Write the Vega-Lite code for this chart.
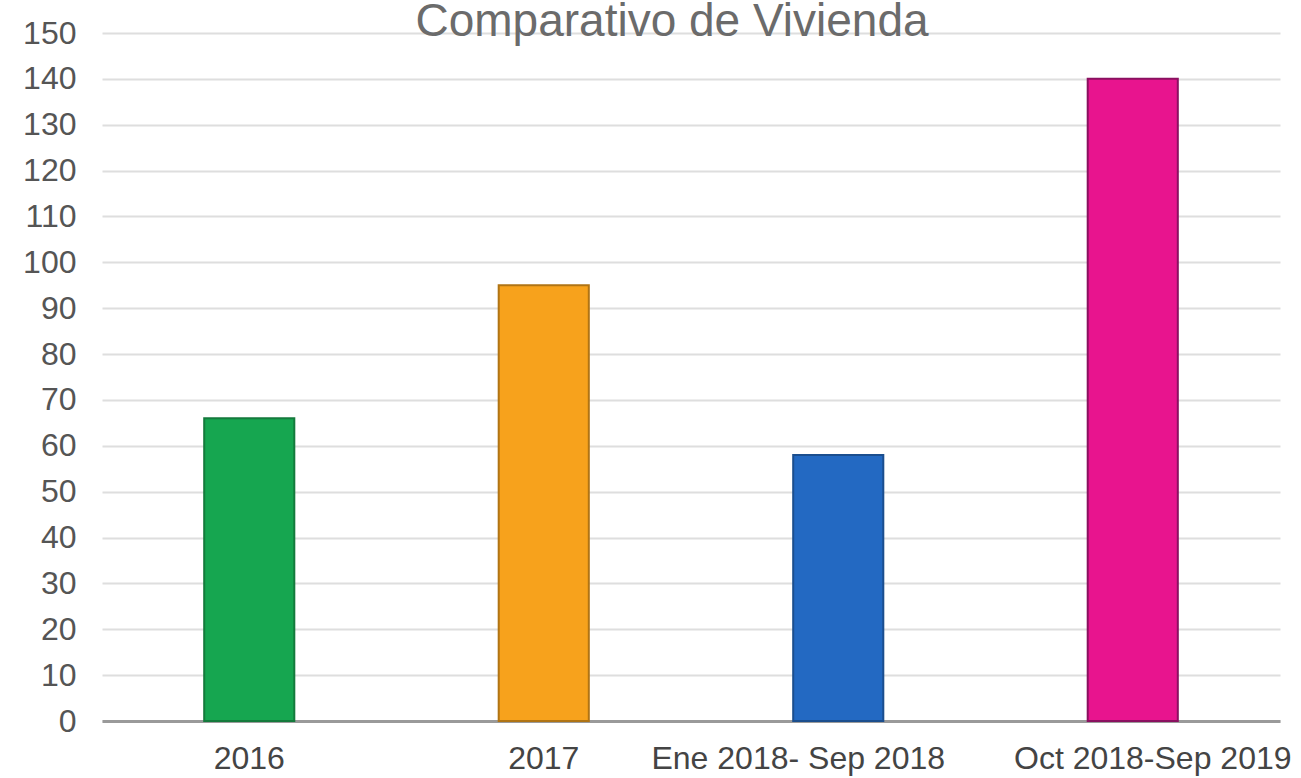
{
  "$schema": "https://vega.github.io/schema/vega-lite/v6.json",
  "autosize": "none",
  "width": 1178,
  "height": 688,
  "padding": {"left": 102, "top": 33, "right": 21, "bottom": 57},
  "background": "white",
  "title": {
    "text": "Comparativo de Vivienda",
    "font": "Liberation Sans",
    "fontSize": 46,
    "fontWeight": "normal",
    "color": "#6b6b6b",
    "anchor": "middle",
    "baseline": "alphabetic",
    "offset": 0,
    "dx": -19,
    "dy": 65
  },
  "data": {
    "values": [
      {"periodo": "2016", "valor": 66},
      {"periodo": "2017", "valor": 95},
      {"periodo": "Ene 2018- Sep 2018", "valor": 58},
      {"periodo": "Oct 2018-Sep 2019", "valor": 140}
    ]
  },
  "mark": {"type": "bar", "strokeWidth": 2},
  "encoding": {
    "x": {
      "field": "periodo",
      "type": "nominal",
      "sort": null,
      "scale": {"paddingInner": 0.694, "paddingOuter": 0.347},
      "axis": {
        "title": null,
        "labelAngle": 0,
        "labelFont": "Liberation Sans",
        "labelFontSize": 32,
        "labelColor": "#444444",
        "labelPadding": 22,
        "labelLimit": 0,
        "labelOverlap": false,
        "labelOffset": {
          "condition": [
            {"test": "datum.value === 'Ene 2018- Sep 2018'", "value": -40},
            {"test": "datum.value === 'Oct 2018-Sep 2019'", "value": 20}
          ],
          "value": 0
        },
        "ticks": false,
        "domainColor": "#9a9a9a",
        "domainWidth": 3,
        "grid": false
      }
    },
    "y": {
      "field": "valor",
      "type": "quantitative",
      "scale": {"domain": [0, 150], "nice": false},
      "axis": {
        "title": null,
        "values": [0, 10, 20, 30, 40, 50, 60, 70, 80, 90, 100, 110, 120, 130, 140, 150],
        "labelFont": "Liberation Sans",
        "labelFontSize": 32,
        "labelColor": "#555555",
        "labelPadding": 26,
        "ticks": false,
        "domain": false,
        "gridColor": "#dedede",
        "gridWidth": 2
      }
    },
    "color": {
      "field": "periodo",
      "type": "nominal",
      "legend": null,
      "scale": {
        "domain": ["2016", "2017", "Ene 2018- Sep 2018", "Oct 2018-Sep 2019"],
        "range": ["#16a650", "#f7a21c", "#2369c2", "#e8148e"]
      }
    },
    "stroke": {
      "field": "periodo",
      "type": "nominal",
      "legend": null,
      "scale": {
        "domain": ["2016", "2017", "Ene 2018- Sep 2018", "Oct 2018-Sep 2019"],
        "range": ["#147a3c", "#b07414", "#1b4e8e", "#8a1060"]
      }
    }
  },
  "config": {"view": {"stroke": null}}
}
